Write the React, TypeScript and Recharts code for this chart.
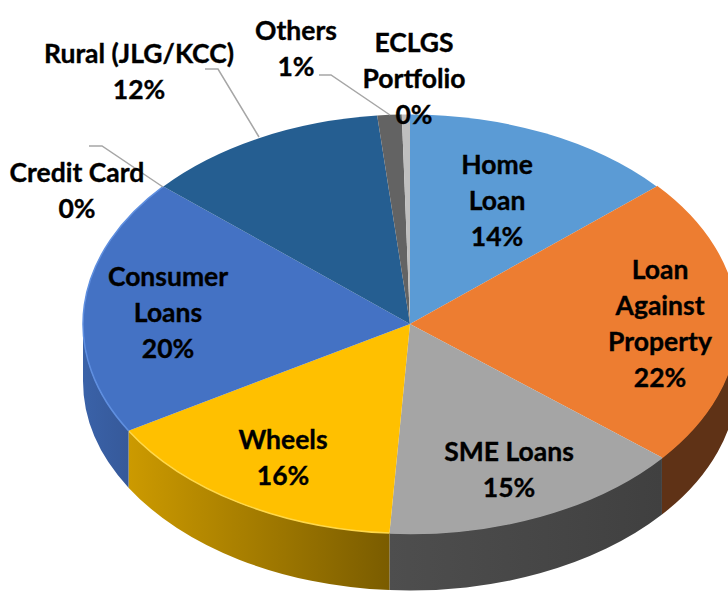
import { PieChart, Pie, Cell } from "recharts";

// slice names, the way they break over lines in the labels
const LABEL_LINES: string[][] = [
  ["Home", "Loan"],
  ["Loan", "Against", "Property"],
  ["SME Loans"],
  ["Wheels"],
  ["Consumer", "Loans"],
  ["Credit Card"],
  ["Rural (JLG/KCC)"],
  ["Others"],
  ["ECLGS", "Portfolio"],
];
// printed percentages
const PERCENT_LABELS = ["14%", "22%", "15%", "16%", "20%", "0%", "12%", "1%", "0%"];
// slice sizes as measured on the drawn pie
const SLICE_SHARES = [13.6, 22.4, 15.0, 15.5, 19.9, 0, 12.0, 1.2, 0.4];

const TOP_COLORS = ["#5B9BD5", "#ED7D31", "#A5A5A5", "#FFC000", "#4472C4", "#70AD47", "#255E91", "#636363", "#BFBFBF"];
const RIM_COLORS = ["#5B9BD5", "#ED7D31", "#A5A5A5", "#FFD84A", "#5F8FE0", "#70AD47", "#255E91", "#636363", "#BFBFBF"];
const WALL_COLORS: [string, string][] = [
  ["#2F5F8A", "#2F5F8A"],
  ["#5F3216", "#5F3216"],
  ["#4E4E4E", "#404040"],
  ["#CC9A00", "#7A5C00"],
  ["#3A62A8", "#36599A"],
  ["#70AD47", "#70AD47"],
  ["#255E91", "#255E91"],
  ["#636363", "#636363"],
  ["#BFBFBF", "#BFBFBF"],
];

// label centre x and first-line centre y
const LABEL_SPOTS: [number, number][] = [
  [497, 165],
  [660, 270],
  [509, 452],
  [283, 440],
  [168, 277],
  [77, 173],
  [139, 54],
  [296, 31],
  [414, 43],
];
const LEADERS: Record<number, string> = {
  5: "89,146 102,146 163,187",
  6: "205,69 218,69 259,137",
  7: "319,75 331,75 390,115",
};

const CX = 410;
const CY = 324;
const RX = 327;
const RY = 209.5;
const DEPTH = 57;
const LINE_HEIGHT = 36;

const tableData = SLICE_SHARES.map((value, i) => ({ name: LABEL_LINES[i].join(" "), value }));

const pt = (deg: number, dy = 0) => {
  const r = (deg * Math.PI) / 180;
  return { x: CX + RX * Math.sin(r), y: CY - RY * Math.cos(r) + dy };
};

function TiltedSlice(props: any) {
  const { startAngle, endAngle, index } = props;
  // recharts angles run counter-clockwise from 3 o'clock, here clockwise from the top
  const a1 = 90 - startAngle;
  const a2 = 90 - endAngle;
  const p1 = pt(a1);
  const p2 = pt(a2);
  const large = a2 - a1 > 180 ? 1 : 0;
  const top = `M${CX},${CY} L${p1.x},${p1.y} A${RX},${RY} 0 ${large} 1 ${p2.x},${p2.y} Z`;
  const rim = `M${p1.x},${p1.y} A${RX},${RY} 0 ${large} 1 ${p2.x},${p2.y}`;

  // wall only shows on the front half
  const w1 = Math.max(a1, 90);
  const w2 = Math.min(a2, 270);
  let wall = null;
  if (w2 > w1) {
    const q1 = pt(w1);
    const q2 = pt(w2);
    const q3 = pt(w2, DEPTH);
    const q4 = pt(w1, DEPTH);
    const big = w2 - w1 > 180 ? 1 : 0;
    const d = `M${q1.x},${q1.y} A${RX},${RY} 0 ${big} 1 ${q2.x},${q2.y} L${q3.x},${q3.y} A${RX},${RY} 0 ${big} 0 ${q4.x},${q4.y} Z`;
    const id = `wall-${index}`;
    // gradient goes left to right
    wall = (
      <g>
        <linearGradient id={id} gradientUnits="userSpaceOnUse" x1={Math.min(q1.x, q2.x)} x2={Math.max(q1.x, q2.x)} y1="0" y2="0">
          <stop offset="0" stopColor={WALL_COLORS[index][0]} />
          <stop offset="1" stopColor={WALL_COLORS[index][1]} />
        </linearGradient>
        <path d={d} fill={`url(#${id})`} />
      </g>
    );
  }
  return (
    <g>
      {wall}
      <path d={top} fill={TOP_COLORS[index]} />
      {w2 > w1 && <path d={rim} fill="none" stroke={RIM_COLORS[index]} strokeWidth={1.5} />}
    </g>
  );
}

function SliceLabel(props: any) {
  const { index } = props;
  const [x, y] = LABEL_SPOTS[index];
  const lines = [...LABEL_LINES[index], PERCENT_LABELS[index]];
  return (
    <g>
      {LEADERS[index] && <polyline points={LEADERS[index]} fill="none" stroke="#A6A6A6" strokeWidth={1.5} />}
      <text
        x={x}
        y={y + 9}
        textAnchor="middle"
        fill="#000"
        stroke="#000"
        strokeWidth={0.35}
        fontFamily="Lato"
        fontWeight={700}
        fontSize={26.5}
      >
        {lines.map((line, i) => (
          <tspan key={i} x={x} dy={i === 0 ? 0 : LINE_HEIGHT}>
            {line}
          </tspan>
        ))}
      </text>
    </g>
  );
}

export default function App() {
  return (
    <div style={{ position: "absolute", left: 0, top: 0, width: 728, height: 591, background: "#fff" }}>
      <PieChart width={728} height={591} margin={{ top: 0, right: 0, bottom: 0, left: 0 }}>
        <Pie
          data={tableData}
          dataKey="value"
          nameKey="name"
          cx={CX}
          cy={CY}
          outerRadius={RX}
          startAngle={90}
          endAngle={-270}
          stroke="none"
          isAnimationActive={false}
          shape={TiltedSlice}
          label={SliceLabel}
          labelLine={false}
        >
          {tableData.map((d, i) => (
            <Cell key={d.name} fill={TOP_COLORS[i]} />
          ))}
        </Pie>
      </PieChart>
    </div>
  );
}
